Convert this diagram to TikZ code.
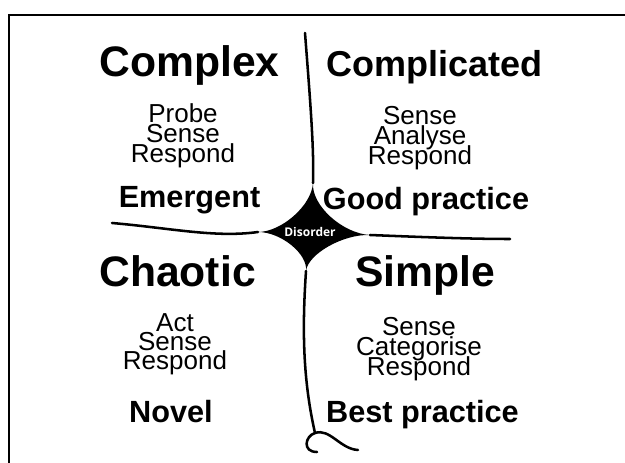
\documentclass[tikz,border=0pt]{standalone}
\usepackage{fontspec}
\setmainfont{Liberation Sans}
\newfontfamily\disorderfont{Open Sans}
\newcommand{\tightlines}{\lineskiplimit=-20pt\relax}

\begin{document}
\begin{tikzpicture}[x=0.75pt, y=-0.75pt,
		domainname/.style={inner sep=0pt, anchor=base, font=\bfseries\fontsize{32}{36}\selectfont},
		practice/.style={inner sep=0pt, anchor=base, font=\bfseries\fontsize{23}{26}\selectfont},
		steplist/.style={inner sep=0pt, anchor=base, align=center, font=\fontsize{19.5}{15}\selectfont\tightlines},
		borderline/.style={line width=1.9pt, line cap=round}]
	\useasboundingbox (0,0) rectangle (625,463);

	% Frame
	\draw[line width=2pt] (9,463) -- (9,15) -- (625,15);

	% Define the tips of the disorder star
	\coordinate (C) at (310,232);
	\coordinate (T) at (313,183);
	\coordinate (L) at (258,232);
	\coordinate (R) at (370,235);
	\coordinate (B) at (306,271);

	% Draw the disorder star
	\fill (T) .. controls (311.5,206) and (343,233.5) .. (R)
		.. controls (343,234) and (308,254) .. (B)
		.. controls (308,254) and (281,232) .. (L)
		.. controls (281,232) and (311.5,206) .. (T);

	% Draw the borders
	\coordinate (top) at (305,33);
	\coordinate (left) at (112,223);
	\coordinate (right) at (510,239);
	\coordinate (foot) at (315,433);
	\draw[borderline] (top) .. controls (311,110) and (314,150) .. (T);
	\draw[borderline] (left) .. controls (170,228) and (215,238) .. (L);
	\draw[borderline] (R) .. controls (420,237) and (470,239) .. (right);
	\draw[borderline] (B) .. controls (302,330) and (303,380) .. (foot);
	\draw[borderline] (foot) .. controls (305,436) and (302,452) .. (317,452);
	\draw[borderline] (foot) .. controls (330,428) and (340,449) .. (358,450);

	% Define the domains with their coordinates
	\node[domainname] (complex) at (189.5,77) {Complex};
	\node[domainname, font=\bfseries\fontsize{27}{30}\selectfont] (complicated) at (434.5,77) {Complicated};
	\node[domainname] (chaotic) at (177.5,287) {Chaotic};
	\node[domainname] (simple) at (425,287) {Simple};

	% Responses (anchored at the last line)
	\node[steplist] (probe) at (183,163) {Probe\\Sense\\Respond};
	\node[steplist] (analyse) at (420,165) {Sense\\Analyse\\Respond};
	\node[steplist, font=\fontsize{19.5}{14}\selectfont\tightlines] (act) at (175,369) {Act\\Sense\\Respond};
	\node[steplist] (categorise) at (419,375) {Sense\\Categorise\\Respond};

	% Practices
	\node[practice] (emergent) at (189.5,208) {Emergent};
	\node[practice] (good) at (426,210) {Good practice};
	\node[practice] (novel) at (171,422) {Novel};
	\node[practice] (best) at (422.5,422) {Best practice};

	\node[text=white, inner sep=0pt, font=\disorderfont\bfseries\fontsize{9}{10}\selectfont] (disorder) at (C) {Disorder};
\end{tikzpicture}
\end{document}
